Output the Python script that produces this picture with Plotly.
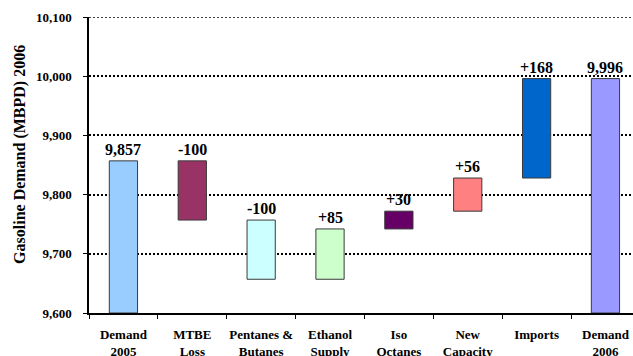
import plotly.graph_objects as go

# Gasoline demand bridge, 2005 -> 2006 (thousand barrels per day)
categories = ["Demand<br>2005", "MTBE<br>Loss", "Pentanes &<br>Butanes", "Ethanol<br>Supply",
              "Iso<br>Octanes", "New<br>Capacity", "Imports", "Demand<br>2006"]
changes = [9857, -100, -100, 85, 30, 56, 168, 9996]
kinds = ["total", "delta", "delta", "delta", "delta", "delta", "delta", "total"]
value_labels = ["9,857", "-100", "-100", "+85", "+30", "+56", "+168", "9,996"]
colors = ["#99CCFF", "#993366", "#CCFFFF", "#CCFFCC", "#660066", "#FF8080", "#0066CC", "#9999FF"]

y_min, y_max = 9600, 10100
y_ticks = [9600, 9700, 9800, 9900, 10000, 10100]
y_ticktext = ["9,600", "9,700", "9,800", "9,900", "10,000", "10,100"]

# Floating bars: totals rise from the axis floor, deltas float on the running level
bases, heights, tops = [], [], []
level = 0
for k, c in zip(kinds, changes):
    if k == "total":
        level = c
        bases.append(y_min)
        heights.append(c - y_min)
        tops.append(c)
    else:
        start = level
        level = level + c
        bases.append(min(start, level))
        heights.append(abs(c))
        tops.append(max(start, level))

FONT = "Liberation Serif, Times New Roman, serif"
L_MARGIN, PLOT_W = 89, 633 - 89

fig = go.Figure()
fig.add_trace(go.Bar(
    x=categories, y=heights, base=bases,
    marker=dict(color=colors, line=dict(color="#3a3a3a", width=1)),
    width=0.41, hoverinfo="skip",
))

for cat, top, lab in zip(categories, tops, value_labels):
    fig.add_annotation(x=cat, y=top, text=lab, showarrow=False,
                       yanchor="bottom", yshift=1,
                       font=dict(family=FONT, size=16, color="black", weight="bold"))

# y-axis title placed as a rotated annotation in the left margin
fig.add_annotation(xref="paper", yref="paper", x=(20 - L_MARGIN) / PLOT_W, y=0.534,
                   text="Gasoline Demand (MBPD) 2006", textangle=-90, showarrow=False,
                   xanchor="center", yanchor="middle",
                   font=dict(family=FONT, size=16, color="black", weight="bold"))

# dotted line along the top of the plot area
fig.add_shape(type="line", xref="paper", yref="y", x0=0, x1=1, y0=y_max, y1=y_max,
              line=dict(color="black", width=1.5, dash="2px,2px"))

fig.update_layout(
    width=633, height=356,
    margin=dict(l=L_MARGIN, r=0, t=17, b=43),
    paper_bgcolor="white", plot_bgcolor="white",
    showlegend=False,
    font=dict(family=FONT, color="black"),
    xaxis=dict(
        type="category", range=[-0.5, 7.4], tickson="boundaries",
        ticks="outside", ticklen=4, tickcolor="black",
        showline=True, linecolor="black", linewidth=1.5,
        showgrid=False, tickangle=0, automargin=False, ticklabelstandoff=9,
        tickfont=dict(family=FONT, size=13, color="black", weight="bold"),
    ),
    yaxis=dict(
        range=[y_min, y_max], tickvals=y_ticks, ticktext=y_ticktext,
        ticks="outside", ticklen=4, tickcolor="black",
        showline=True, linecolor="black", linewidth=1.5,
        showgrid=True, gridcolor="black", griddash="2px,2px", gridwidth=1.5,
        zeroline=False, automargin=False, ticklabelstandoff=9,
        tickfont=dict(family=FONT, size=13, color="black", weight="bold"),
    ),
)

fig.write_html("out.html")
